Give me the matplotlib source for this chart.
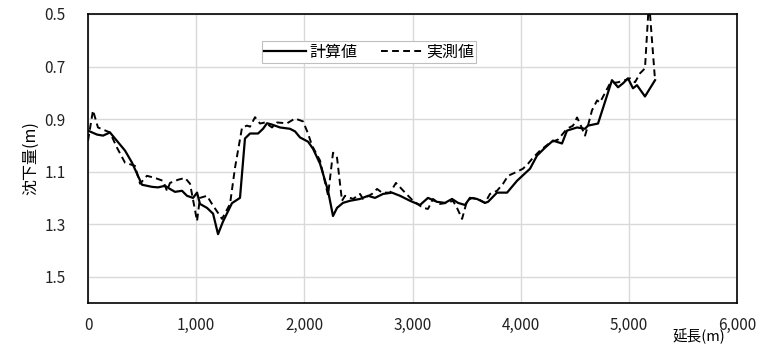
import numpy as np
import matplotlib
matplotlib.use('Agg')
import matplotlib.pyplot as plt
from matplotlib.ticker import FuncFormatter

plt.rcParams['font.family'] = ['Noto Sans CJK JP', 'DejaVu Sans']

# 計算値
calc_x = [0, 83, 139, 203, 342, 407, 499, 592, 647, 712, 758, 804, 869, 915, 971,
          1008, 1035, 1100, 1156, 1202, 1248, 1331, 1405, 1451, 1498, 1572, 1618,
          1655, 1701, 1775, 1867, 1914, 1960, 2034, 2080, 2145, 2219, 2265, 2302,
          2357, 2422, 2515, 2589, 2653, 2727, 2810, 2884, 2977, 3069, 3143, 3226,
          3300, 3365, 3421, 3485, 3531, 3596, 3670, 3698, 3781, 3874, 3966, 4086,
          4151, 4225, 4299, 4382, 4428, 4521, 4595, 4622, 4715, 4844, 4900, 4946,
          4992, 5038, 5075, 5149, 5242]
calc_y = [0.944, 0.959, 0.963, 0.951, 1.02, 1.066, 1.15, 1.158, 1.16, 1.154, 1.166,
          1.177, 1.173, 1.192, 1.20, 1.18, 1.223, 1.238, 1.26, 1.338, 1.29, 1.22,
          1.2, 0.974, 0.955, 0.955, 0.937, 0.916, 0.921, 0.932, 0.937, 0.947, 0.97,
          0.986, 1.013, 1.07, 1.173, 1.269, 1.238, 1.219, 1.211, 1.204, 1.192, 1.2,
          1.185, 1.18, 1.192, 1.211, 1.227, 1.2, 1.215, 1.219, 1.204, 1.219, 1.227,
          1.2, 1.204, 1.219, 1.215, 1.18, 1.18, 1.135, 1.089, 1.039, 1.009, 0.982,
          0.993, 0.944, 0.932, 0.937, 0.925, 0.917, 0.752, 0.779, 0.764, 0.745,
          0.783, 0.771, 0.814, 0.752]

# 実測値
meas_x = [0, 46, 92, 203, 268, 342, 434, 481, 545, 619, 693, 730, 758, 832, 897,
          943, 1008, 1035, 1100, 1146, 1239, 1313, 1359, 1424, 1470, 1498, 1544,
          1590, 1636, 1701, 1747, 1840, 1914, 1988, 2034, 2071, 2145, 2219, 2265,
          2302, 2348, 2376, 2450, 2515, 2542, 2625, 2672, 2718, 2792, 2847, 2931,
          3005, 3097, 3143, 3189, 3254, 3319, 3374, 3411, 3458, 3504, 3550, 3605,
          3670, 3716, 3781, 3837, 3883, 3947, 4021, 4068, 4114, 4179, 4271, 4345,
          4428, 4484, 4521, 4548, 4595, 4622, 4659, 4706, 4733, 4826, 4900, 4964,
          5011, 5057, 5103, 5149, 5186, 5242]
meas_y = [0.982, 0.867, 0.932, 0.951, 1.009, 1.066, 1.078, 1.146, 1.116, 1.124,
          1.135, 1.173, 1.143, 1.131, 1.124, 1.146, 1.288, 1.2, 1.192, 1.223, 1.28,
          1.223, 1.085, 0.932, 0.925, 0.929, 0.893, 0.917, 0.913, 0.932, 0.913,
          0.916, 0.898, 0.909, 0.955, 1.001, 1.058, 1.19, 1.028, 1.047, 1.211,
          1.192, 1.204, 1.185, 1.204, 1.185, 1.166, 1.18, 1.18, 1.143, 1.18, 1.211,
          1.238, 1.242, 1.204, 1.223, 1.219, 1.211, 1.238, 1.28, 1.211, 1.2, 1.204,
          1.219, 1.185, 1.173, 1.146, 1.116, 1.104, 1.089, 1.07, 1.047, 1.02, 0.99,
          0.978, 0.937, 0.925, 0.894, 0.917, 0.963, 0.925, 0.867, 0.829, 0.837,
          0.764, 0.76, 0.752, 0.745, 0.76, 0.726, 0.707, 0.45, 0.752]

fig = plt.figure(figsize=(7.64, 3.47), dpi=100)
ax = fig.add_axes([0.1152, 0.1268, 0.8495, 0.833])

ax.plot(calc_x, calc_y, color='black', lw=1.6, label='計算値')
ax.plot(meas_x, meas_y, color='black', lw=1.4, ls=(0, (3.5, 2.2)), label='実測値')

ax.set_xlim(0, 6000)
ax.set_ylim(1.6, 0.5)
ax.set_xticks(np.arange(0, 6001, 1000))
ax.set_yticks([0.5, 0.7, 0.9, 1.1, 1.3, 1.5])
ax.xaxis.set_major_formatter(FuncFormatter(lambda v, p: f'{int(v):,}'))
ax.yaxis.set_major_formatter(FuncFormatter(lambda v, p: f'{v:.1f}'))
ax.tick_params(length=0, labelsize=11, colors='#222222')
ax.tick_params(axis='y', pad=16)
ax.tick_params(axis='x', pad=10)
ax.grid(True, color='#d9d9d9', lw=1)
ax.set_axisbelow(True)
for s in ax.spines.values():
    s.set_color('black')
    s.set_linewidth(1.2)

ax.set_ylabel('沈下量(m)', fontsize=11.5, labelpad=4)
fig.text(0.915, 0.008, '延長(m)', fontsize=10.5, ha='center', va='bottom')

leg = ax.legend(loc='center', bbox_to_anchor=(0.433, 0.868), ncol=2, fontsize=11.5,
                frameon=True, fancybox=False, edgecolor='#bfbfbf', framealpha=1,
                handlelength=2.6, handletextpad=0.2, columnspacing=1.5,
                borderpad=0.15, borderaxespad=0)
leg.get_frame().set_linewidth(0.8)

fig.savefig('out.png', dpi=100)
